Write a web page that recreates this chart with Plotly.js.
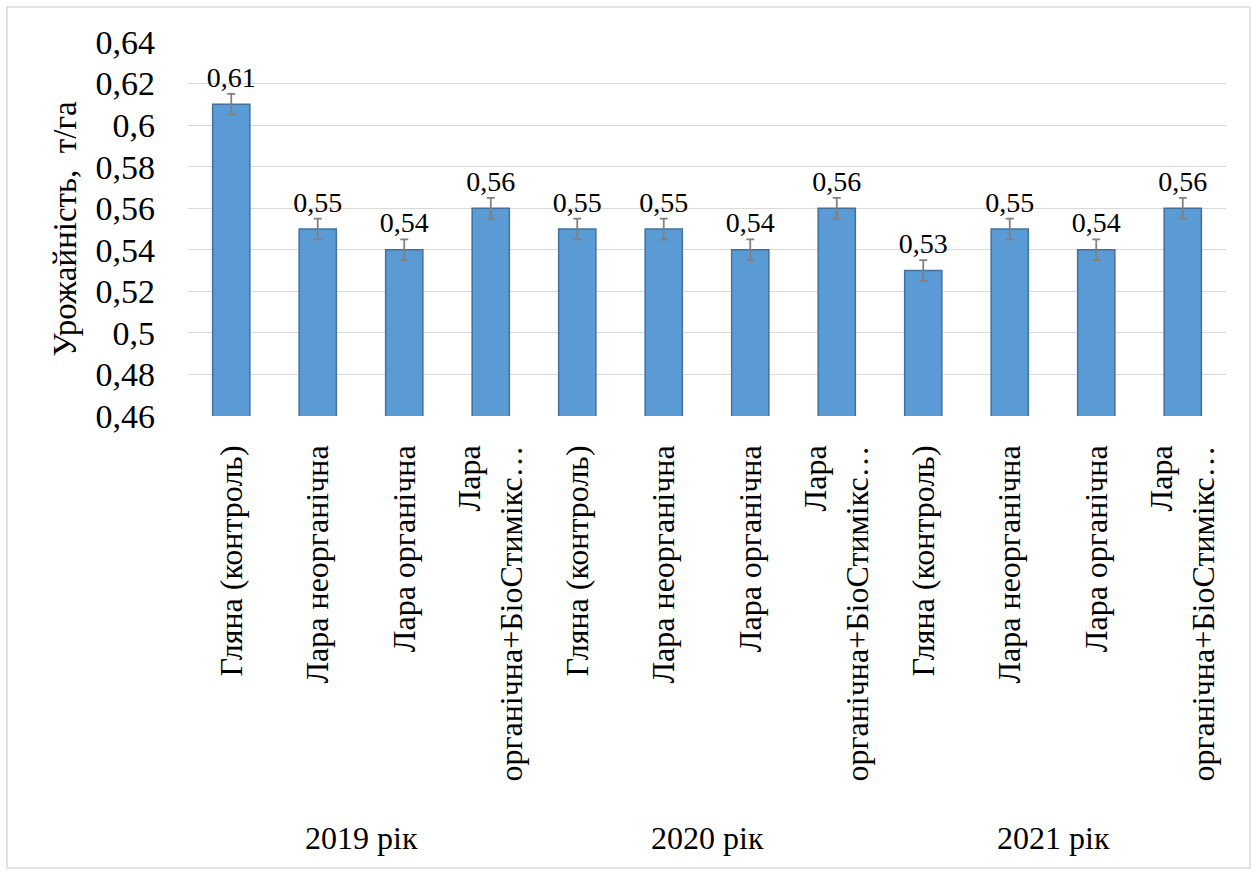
<!DOCTYPE html>
<html>
<head>
<meta charset="utf-8">
<script src="https://cdn.plot.ly/plotly-3.0.1.min.js"></script>
</head>
<body style="margin:0">
<div id="chart"></div>
<script>
// ---- data ----
const categories = [
  "Гляна (контроль)", "Лара неорганічна", "Лара органічна", "Лара<br>органічна+БіоСтимікс…",
  "Гляна (контроль)", "Лара неорганічна", "Лара органічна", "Лара<br>органічна+БіоСтимікс…",
  "Гляна (контроль)", "Лара неорганічна", "Лара органічна", "Лара<br>органічна+БіоСтимікс…"
];
const years = ["2019 рік", "2020 рік", "2021 рік"];
const yearOfCategory = [0,0,0,0, 1,1,1,1, 2,2,2,2];
const yields = [0.61, 0.55, 0.54, 0.56, 0.55, 0.55, 0.54, 0.56, 0.53, 0.55, 0.54, 0.56];
const errors = [0.005, 0.005, 0.005, 0.005, 0.005, 0.005, 0.005, 0.005, 0.005, 0.005, 0.005, 0.005];
const yTickVals = [0.46, 0.48, 0.50, 0.52, 0.54, 0.56, 0.58, 0.60, 0.62, 0.64];
const yTickLabels = ["0,46", "0,48", "0,5", "0,52", "0,54", "0,56", "0,58", "0,6", "0,62", "0,64"];
const yTitle = "Урожайність,  т/га";

// ---- build ----
const FONT = "Times New Roman";
const xs = categories.map((c, i) => i);
const labelText = yields.map(v => v.toFixed(2).replace(".", ","));

const barTrace = {
  type: "bar",
  x: xs,
  y: yields,
  marker: { color: "#5b9bd5", line: { color: "#41719c", width: 1.5 } },
  error_y: { type: "data", array: errors, visible: true, color: "#808080", thickness: 1.8, width: 4 },
  showlegend: false
};
const labelTrace = {
  type: "scatter",
  mode: "text",
  x: xs,
  y: yields.map((v, i) => v + errors[i]),
  text: labelText,
  textposition: "top center",
  textfont: { family: FONT, size: 28 },
  hoverinfo: "skip",
  showlegend: false
};

const yearAnnotations = years.map((yr, g) => {
  const idx = xs.filter(i => yearOfCategory[i] === g);
  const mid = (Math.min(...idx) + Math.max(...idx)) / 2;
  return {
    text: yr, x: mid, xref: "x", y: -1.128, yref: "paper",
    showarrow: false, xanchor: "center", yanchor: "middle",
    font: { family: FONT, size: 32 }
  };
});

const layout = {
  width: 1259, height: 872,
  margin: { l: 188, r: 33, t: 42, b: 456 },
  paper_bgcolor: "#ffffff", plot_bgcolor: "#ffffff",
  font: { family: FONT, color: "#000000" },
  bargap: 0.57,
  showlegend: false,
  xaxis: {
    range: [-0.5, categories.length - 0.5],
    tickmode: "array", tickvals: xs, ticktext: categories,
    tickangle: -90,
    ticks: "", showgrid: false, zeroline: false, showline: false,
    ticklabelstandoff: 22,
    tickfont: { family: FONT, size: 32 },
    automargin: false
  },
  yaxis: {
    range: [0.46, 0.64],
    tickmode: "array", tickvals: yTickVals, ticktext: yTickLabels,
    showgrid: true, gridcolor: "#d9d9d9", gridwidth: 1.3,
    zeroline: false, showline: false, ticks: "",
    ticklabelstandoff: 32,
    tickfont: { family: FONT, size: 34 },
    title: { text: yTitle, font: { family: FONT, size: 33 }, standoff: 8 },
    automargin: false
  },
  shapes: [{
    type: "rect", xref: "paper", yref: "paper",
    x0: -0.1744, x1: 1.0231, y0: -1.2086, y1: 1.0936,
    line: { color: "#d9d9d9", width: 1.5 }, fillcolor: "rgba(0,0,0,0)", layer: "below"
  }],
  annotations: yearAnnotations
};

Plotly.newPlot("chart", [barTrace, labelTrace], layout, { displayModeBar: false });
</script>
</body>
</html>
